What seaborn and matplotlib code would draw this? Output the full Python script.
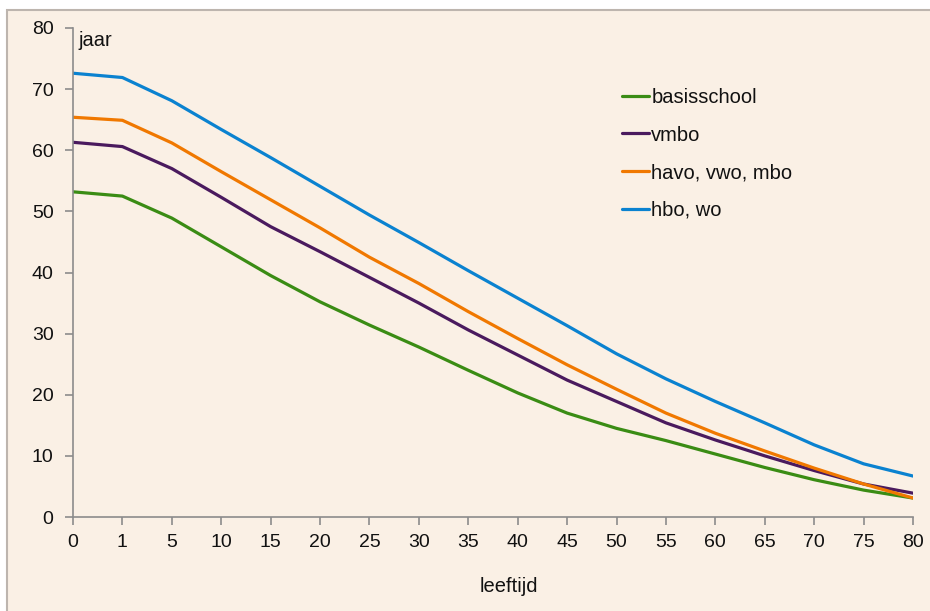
import matplotlib
matplotlib.use("Agg")
import matplotlib.pyplot as plt
from matplotlib.patches import Rectangle
import numpy as np
import pandas as pd
import seaborn as sns

# Resterende levensverwachting naar leeftijd en opleidingsniveau
leeftijd = [0, 1, 5, 10, 15, 20, 25, 30, 35, 40, 45, 50, 55, 60, 65, 70, 75, 80]
basisschool = [53.2, 52.5, 48.9, 44.2, 39.5, 35.2, 31.4, 27.8, 24.0, 20.3,
               17.0, 14.5, 12.5, 10.3, 8.1, 6.1, 4.4, 3.1]
vmbo = [61.3, 60.6, 57.0, 52.3, 47.5, 43.4, 39.2, 35.0, 30.6, 26.5,
        22.4, 18.9, 15.4, 12.6, 10.0, 7.6, 5.4, 3.9]
havo_vwo_mbo = [65.4, 64.9, 61.2, 56.5, 51.9, 47.3, 42.5, 38.2, 33.6, 29.2,
                24.9, 20.9, 17.0, 13.7, 10.8, 8.0, 5.4, 3.1]
hbo_wo = [72.6, 71.9, 68.1, 63.4, 58.8, 54.1, 49.4, 44.9, 40.3, 35.8,
          31.3, 26.7, 22.6, 18.9, 15.4, 11.8, 8.7, 6.7]

reeksen = {
    "basisschool": basisschool,
    "vmbo": vmbo,
    "havo, vwo, mbo": havo_vwo_mbo,
    "hbo, wo": hbo_wo,
}
kleuren = {
    "basisschool": "#3a8c14",
    "vmbo": "#4a1a5e",
    "havo, vwo, mbo": "#f07800",
    "hbo, wo": "#0a82d0",
}

rows = []
for naam, waarden in reeksen.items():
    for pos, (lft, v) in enumerate(zip(leeftijd, waarden)):
        rows.append({"pos": pos, "leeftijd": lft, "jaar": v, "niveau": naam})
df = pd.DataFrame(rows)

sns.set_theme(style="white")
plt.rcParams["font.family"] = ["Liberation Sans", "DejaVu Sans"]

W, H = 930, 611
fig = plt.figure(figsize=(W / 100, H / 100), dpi=100, facecolor="white")

# beige kader met grijze rand links en boven
bg = "#faf0e5"
kader = Rectangle((7 / W, -0.1), 1.2, 1.1 - 10 / H, transform=fig.transFigure,
                  facecolor=bg, edgecolor="#bdb5ae", linewidth=1.5, zorder=-10)
fig.add_artist(kader)

ax = fig.add_axes([73 / W, 1 - 517 / H, 840 / W, 489 / H])
ax.set_facecolor("none")
ax.set_zorder(1)

sns.lineplot(data=df, x="pos", y="jaar", hue="niveau", palette=kleuren,
             hue_order=list(reeksen.keys()), linewidth=2.3, ax=ax,
             sort=False, estimator=None)

ax.set_xlim(0, len(leeftijd) - 1)
ax.set_ylim(0, 80)
ax.set_xticks(range(len(leeftijd)))
ax.set_xticklabels([str(a) for a in leeftijd])
ax.set_yticks(range(0, 81, 10))

for side in ("top", "right"):
    ax.spines[side].set_visible(False)
for side in ("left", "bottom"):
    ax.spines[side].set_color("#8c8c8c")
    ax.spines[side].set_linewidth(1.2)

ax.tick_params(axis="both", which="major", direction="out", length=6, width=1.2,
               color="#8c8c8c", labelsize=14, labelcolor="#111111",
               bottom=True, left=True)
ax.tick_params(axis="y", pad=8)
ax.tick_params(axis="x", pad=6)
ax.set_xlabel("")
ax.set_ylabel("")

ax.text(5 / 840, (517 - 31) / 489, "jaar", transform=ax.transAxes,
        fontsize=14.5, color="#111111", ha="left", va="top")
fig.text(509 / W, 1 - 586 / H, "leeftijd", fontsize=14.5, color="#111111",
         ha="center", va="center")

leg = ax.legend(loc="upper left", bbox_to_anchor=((622 - 73) / 840, (517 - 88) / 489),
                frameon=False, fontsize=14.5, handlelength=1.35, handletextpad=0.1,
                labelspacing=0.92, borderaxespad=0, borderpad=0)
for t in leg.get_texts():
    t.set_color("#111111")
for ln in leg.get_lines():
    ln.set_linewidth(2.3)

fig.savefig("out.png", dpi=100, facecolor="white")
